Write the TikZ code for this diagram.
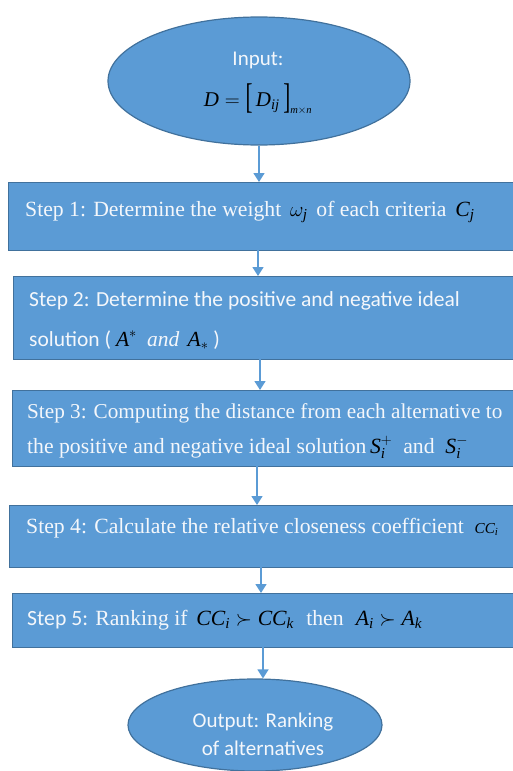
\documentclass[tikz,border=0pt]{standalone}
\usepackage{amsmath}
\usepackage{graphicx}
\usepackage{fontspec}
\newfontfamily\timesf{Liberation Serif}
\newfontfamily\calibri{Carlito}
\usetikzlibrary{shapes.geometric,arrows.meta}
\definecolor{boxfill}{HTML}{5B9BD5}
\definecolor{boxline}{HTML}{41719C}
\definecolor{txtcol}{HTML}{F4F7FB}
\newcommand{\ti}[1]{\text{\timesf\itshape #1}}
\newcommand{\mk}[1]{{\color{black}$#1$}}
\newcommand{\tallbr}[1]{\mbox{\raisebox{-2.5pt}{\scalebox{1}[1.7]{\timesf #1}}}}
\begin{document}
\begin{tikzpicture}[x=1pt,y=-1pt,
  ovalbox/.style={ellipse, draw=boxline, fill=boxfill, line width=1.2pt, inner sep=0pt},
  stepbox/.style={rectangle, draw=boxline, fill=boxfill, line width=1.4pt, inner sep=0pt, anchor=north west, minimum width=530pt},
  txt/.style={inner sep=0pt, text=txtcol, font=\timesf\fontsize{21.7}{26}\selectfont},
  ctxt/.style={inner sep=0pt, text=txtcol, font=\calibri\fontsize{21.5}{26}\selectfont},
  link/.style={draw=boxfill, line width=1.6pt, -{Triangle[length=9pt,width=11pt]}}
]
\useasboundingbox (0,0) rectangle (512,771);
% input
\node[ovalbox, minimum width=302pt, minimum height=128pt] (in) at (259,81) {};
\node[ctxt, anchor=base, font=\calibri\fontsize{21}{25}\selectfont] (inlbl) at (258,65) {Input:};
\node[txt, anchor=base, font=\timesf\fontsize{21}{25}\selectfont] (inmath) at (258,106) {\mk{\ti{D}=\tallbr{[}\,\ti{D}_{\ti{ij}}\,\tallbr{]}_{\scriptscriptstyle\ti{m}\times\ti{n}}}};
% step boxes
\node[stepbox, minimum height=68pt] (b1) at (8,182) {};
\node[txt, anchor=base west] (t1) at (25,216) {Step 1: Determine the weight \mk{\,\omega_{\ti{j}}\,} of each criteria \mk{\,\ti{C}_{\ti{j}}}};
\node[stepbox, minimum height=83pt] (b2) at (13,276) {};
\node[ctxt, anchor=base west] (t2a) at (29,306) {Step 2: Determine the positive and negative ideal};
\node[ctxt, anchor=base west] (t2b) at (29,346) {solution ( \mk{\ti{A}^{*}} {\timesf\itshape\ and} \mk{\,\ti{A}_{*}} )};
\node[stepbox, minimum height=76pt] (b3) at (12,390) {};
\node[txt, anchor=base west, font=\timesf\fontsize{21.2}{26}\selectfont] (t3a) at (27,418) {Step 3: Computing the distance from each alternative to};
\node[txt, anchor=base west] (t3b) at (27,453) {the positive and negative ideal solution\,\mk{\ti{S}_{\ti{i}}^{+}} \ and \ \mk{\ti{S}_{\ti{i}}^{-}}};
\node[stepbox, minimum height=62pt] (b4) at (9,505) {};
\node[txt, anchor=base west] (t4) at (26,533) {Step 4: Calculate the relative closeness coefficient \mk{\ \scriptstyle \ti{CC}_{\ti{i}}}};
\node[stepbox, minimum height=54pt] (b5) at (12,593) {};
\node[txt, anchor=base west] (t5) at (27,625) {{\calibri Step 5:} Ranking if \mk{\,\ti{CC}_{\ti{i}}\succ \ti{CC}_{\ti{k}}\,\,} then \mk{\,\,\ti{A}_{\ti{i}}\succ \ti{A}_{\ti{k}}}};
% output
\node[ovalbox, minimum width=254pt, minimum height=92pt] (out) at (255,725) {};
\node[ctxt, anchor=base, font=\calibri\fontsize{21}{25}\selectfont] (o1) at (263,727) {Output: Ranking};
\node[ctxt, anchor=base, font=\calibri\fontsize{21}{25}\selectfont] (o2) at (263,755) {of alternatives};
% connectors
\coordinate (c1) at (258,250);
\coordinate (c2) at (260,359);
\coordinate (c3) at (257,466);
\coordinate (c4) at (261,567);
\coordinate (c5) at (263,647);
\draw[link] (in.south) -- (in.south |- b1.north);
\draw[link] (c1) -- (c1 |- b2.north);
\draw[link] (c2) -- (c2 |- b3.north);
\draw[link] (c3) -- (c3 |- b4.north);
\draw[link] (c4) -- (c4 |- b5.north);
\draw[link] (c5) -- (c5 |- out.north);
\end{tikzpicture}
\end{document}
